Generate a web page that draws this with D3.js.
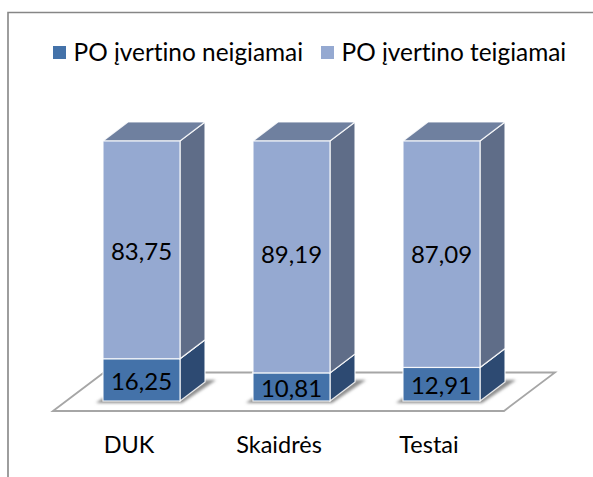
<!DOCTYPE html>
<html>
<head>
<meta charset="utf-8">
<script src="https://cdn.jsdelivr.net/npm/d3@7"></script>
<style>
    html, body { margin: 0; padding: 0; background: #fff; }
    svg { display: block; }
    text { font-family: Lato, "Open Sans", sans-serif; fill: #000; font-variant-ligatures: none; }
</style>
</head>
<body>
<svg></svg>
<script>
const categories = ["DUK", "Skaidrės", "Testai"];
const negative = [16.25, 10.81, 12.91];
const positive = [83.75, 89.19, 87.09];
const seriesNames = ["PO įvertino neigiamai", "PO įvertino teigiamai"];

const width = 593;
const height = 477;
const depthX = 25;
const depthY = 19;
const fontSize = 24;

const colors = [
    { front: "#4472a9", side: "#2d4a72", top: "#3f5f8a" },
    { front: "#95a9d1", side: "#5f6d88", top: "#6f809f" }
];

const svg = d3.select("svg").attr("width", width).attr("height", height);

const defs = svg.append("defs");
defs.append("filter").attr("id", "soft")
    .attr("x", "-20%").attr("y", "-50%").attr("width", "140%").attr("height", "200%")
    .append("feGaussianBlur").attr("stdDeviation", 1.6);

const x = d3.scaleBand().domain(categories).range([103, 480]).paddingInner(73 / 150);
const y = d3.scaleLinear().domain([0, 100]).range([401, 141]);
const labelFormat = d3.formatLocale({ decimal: ",", thousands: ".", grouping: [3], currency: ["", ""] }).format(".2f");

// chart frame, only top and left are visible
svg.append("path")
    .attr("d", "M8,477V12.5H593")
    .attr("fill", "none").attr("stroke", "#868686").attr("stroke-width", 1.6);

// floor
svg.append("path")
    .attr("d", "M53,411L104,372.5H555L504,411Z")
    .attr("fill", "#fff").attr("stroke", "#a6a6a6").attr("stroke-width", 1.8);

function box(g, x0, w, yTop, yBottom, c) {
    const side = [[x0 + w, yTop], [x0 + w + depthX, yTop - depthY], [x0 + w + depthX, yBottom - depthY], [x0 + w, yBottom]];
    const top = [[x0, yTop], [x0 + depthX, yTop - depthY], [x0 + w + depthX, yTop - depthY], [x0 + w, yTop]];
    const faces = [[side, c.side], [top, c.top]];
    g.selectAll(null).data(faces).enter().append("path")
        .attr("d", function (d) { return "M" + d[0].join("L") + "Z"; })
        .attr("fill", function (d) { return d[1]; })
        .attr("stroke", "#fff").attr("stroke-opacity", 0.85).attr("stroke-width", 1.2);
    g.append("rect")
        .attr("x", x0).attr("y", yTop)
        .attr("width", w).attr("height", yBottom - yTop)
        .attr("fill", c.front)
        .attr("stroke", "#fff").attr("stroke-opacity", 0.85).attr("stroke-width", 1.2);
}

const bars = svg.append("g").selectAll("g")
    .data(categories).enter().append("g");

bars.each(function (cat, i) {
    const g = d3.select(this);
    const x0 = x(cat);
    const w = x.bandwidth();
    // soft shadow on the floor
    g.append("path")
        .attr("d", "M" + [[x0 - 7, 403], [x0 + w + 2, 403], [x0 + w + depthX + 11, 380], [x0 + w + depthX, 380], [x0 + w, 398], [x0, 398]].join("L") + "Z")
        .attr("fill", "#8c8c8c").attr("filter", "url(#soft)");
    // lower segment first so the upper one covers its top face
    box(g, x0, w, y(negative[i]), y(0), colors[0]);
    box(g, x0, w, y(negative[i] + positive[i]), y(negative[i]), colors[1]);
});

// value labels
const upperLabelY = [260, 263, 263];
bars.append("text")
    .attr("x", function (d) { return x(d) + x.bandwidth() / 2; })
    .attr("y", function (d, i) { return upperLabelY[i]; })
    .attr("text-anchor", "middle").attr("font-size", fontSize)
    .text(function (d, i) { return labelFormat(positive[i]); });

bars.append("text")
    .attr("x", function (d) { return x(d) + x.bandwidth() / 2; })
    .attr("y", function (d, i) { return y(negative[i] / 2) + 10; })
    .attr("text-anchor", "middle").attr("font-size", fontSize)
    .text(function (d, i) { return labelFormat(negative[i]); });

// category axis, shifted to the front edge of the floor
const axis = svg.append("g")
    .attr("transform", "translate(-12.5,436)")
    .call(d3.axisBottom(x).tickSize(0).tickPadding(0));
axis.select(".domain").remove();
axis.selectAll("text").attr("font-size", fontSize - 0.5).style("font-family", "Lato").style("font-variant-ligatures", "none");

// legend
const legendX = [53, 321];
const legend = svg.append("g").selectAll("g")
    .data(seriesNames).enter().append("g")
    .attr("transform", function (d, i) { return "translate(" + legendX[i] + ",46)"; });
legend.append("rect")
    .attr("width", 13).attr("height", 13)
    .attr("fill", function (d, i) { return colors[i].front; });
legend.append("text")
    .attr("x", 20.5).attr("y", 14.5)
    .attr("font-size", fontSize + 0.4)
    .text(function (d) { return d; });
</script>
</body>
</html>
